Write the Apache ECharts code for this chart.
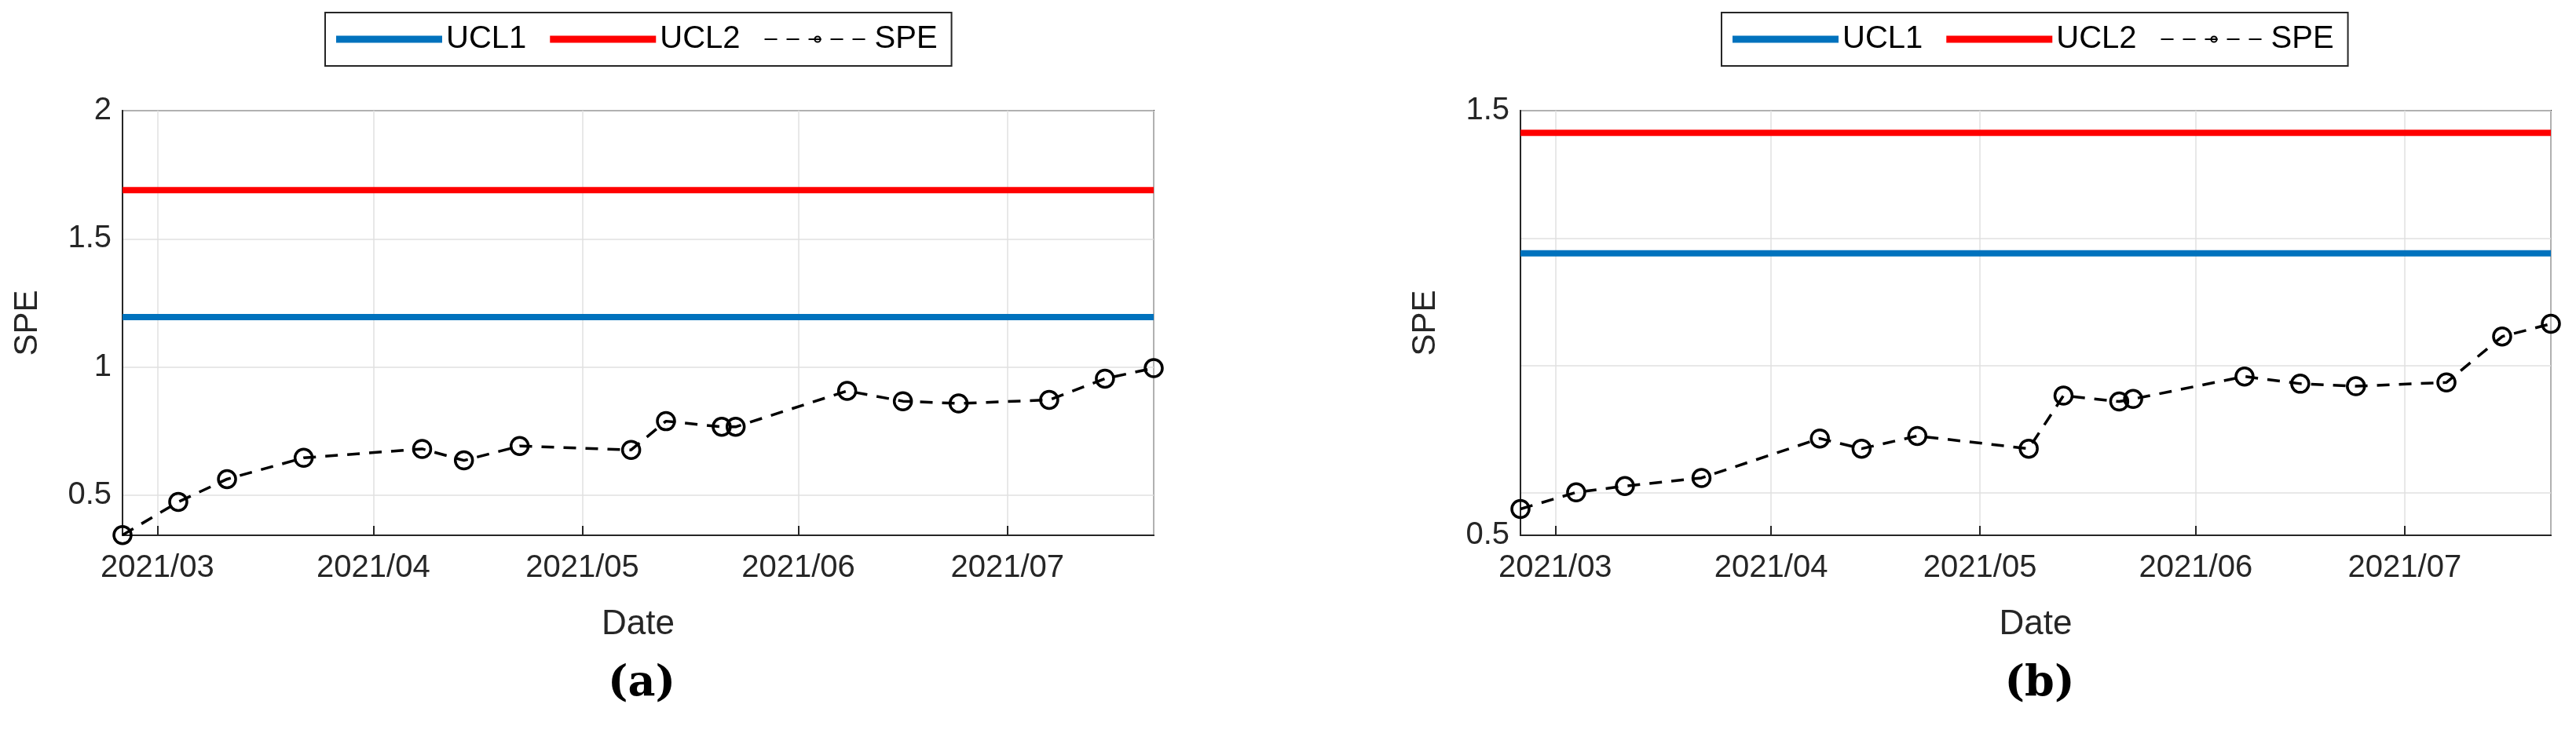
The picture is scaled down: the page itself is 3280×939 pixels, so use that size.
<!DOCTYPE html>
<html>
<head>
<meta charset="utf-8">
<script src="https://cdn.jsdelivr.net/npm/echarts@6/dist/echarts.min.js"></script>
<style>
  html, body { margin: 0; padding: 0; background: #fff; }
  #chart { width: 3280px; height: 939px; }
</style>
</head>
<body>
<div id="chart"></div>
<script>
// sample dates shared by both panels
const dates = [
    '2021-02-24', '2021-03-04', '2021-03-11', '2021-03-22', '2021-04-08', '2021-04-14',
    '2021-04-22', '2021-05-08', '2021-05-13', '2021-05-21', '2021-05-23', '2021-06-08',
    '2021-06-16', '2021-06-24', '2021-07-07', '2021-07-15', '2021-07-22'
];
// panel (a)
const speA = [0.345, 0.474, 0.563, 0.646, 0.681, 0.636, 0.692, 0.677, 0.789, 0.767, 0.767, 0.907, 0.867, 0.858, 0.872, 0.955, 0.996];
const ucl1A = 1.195;
const ucl2A = 1.69;
// panel (b)
const speB = [0.562, 0.601, 0.616, 0.635, 0.728, 0.704, 0.734, 0.704, 0.829, 0.815, 0.821, 0.874, 0.857, 0.851, 0.860, 0.968, 0.998];
const ucl1B = 1.164;
const ucl2B = 1.448;

const xStart = '2021-02-24';
const xEnd = '2021-07-22';
const DAY = 86400000;

var dom = document.getElementById('chart');
var myChart = echarts.init(dom, null, { renderer: 'canvas' });

const font = 'Arial, "Liberation Sans", sans-serif';

function pairs(vals) {
    return dates.map(function (d, i) { return [d, vals[i]]; });
}
function flat(v) {
    return [[xStart, v], [xEnd, v]];
}

function makeX(idx) {
    return {
        type: 'time', gridIndex: idx,
        min: xStart, max: xEnd,
        minInterval: 28 * DAY, maxInterval: 31 * DAY,
        name: 'Date', nameLocation: 'middle', nameGap: 92,
        nameTextStyle: { fontSize: 44, color: '#262626', fontFamily: font },
        axisLine: { lineStyle: { color: '#262626', width: 2 } },
        axisTick: { inside: true, length: 12, lineStyle: { color: '#262626', width: 2 } },
        axisLabel: {
            formatter: '{yyyy}/{MM}', fontSize: 40, color: '#262626', fontFamily: font, margin: 22,
            rich: {}
        },
        splitLine: { show: true, lineStyle: { color: '#e0e0e0', width: 1.5 } }
    };
}
function makeY(idx, min, max, gap) {
    return {
        type: 'value', gridIndex: idx, min: min, max: max, splitNumber: 3,
        name: 'SPE', nameLocation: 'middle', nameGap: gap,
        nameTextStyle: { fontSize: 42, color: '#262626', fontFamily: font },
        axisLine: { show: true, lineStyle: { color: '#262626', width: 2 } },
        axisTick: { inside: true, length: 12, lineStyle: { color: '#262626', width: 2 } },
        axisLabel: {
            fontSize: 40, color: '#262626', fontFamily: font, margin: 14,
            formatter: function (v) {
                var r = Math.round(v * 2) / 2;
                return Math.abs(v - r) < 1e-6 ? String(r) : '';
            }
        },
        splitLine: { show: true, lineStyle: { color: '#e0e0e0', width: 1.5 } }
    };
}
function makeSeries(idx, spe, u1, u2) {
    return [
        {
            name: 'UCL1', type: 'line', xAxisIndex: idx, yAxisIndex: idx, data: flat(u1),
            symbol: 'none', lineStyle: { color: '#0072BD', width: 8 }, itemStyle: { color: '#0072BD' }
        },
        {
            name: 'UCL2', type: 'line', xAxisIndex: idx, yAxisIndex: idx, data: flat(u2),
            symbol: 'none', lineStyle: { color: '#FF0000', width: 8 }, itemStyle: { color: '#FF0000' }
        },
        {
            name: 'SPE', type: 'line', xAxisIndex: idx, yAxisIndex: idx, data: pairs(spe),
            symbol: 'circle', symbolSize: 22, showSymbol: true, showAllSymbol: true, clip: false,
            lineStyle: { color: '#000', width: 3.5, type: [16, 12] },
            itemStyle: { color: 'rgba(0,0,0,0)', borderColor: '#000', borderWidth: 3.5 }
        }
    ];
}
function makeLegend(idx, left) {
    return {
        left: left, top: 16, width: 900,
        data: [
            { name: 'UCL1', icon: 'rect' },
            { name: 'UCL2', icon: 'rect' },
            { name: 'SPE' }
        ],
        itemWidth: 135, itemHeight: 9, itemGap: 30,
        padding: [14, 18, 14, 14],
        borderColor: '#262626', borderWidth: 2,
        textStyle: { fontSize: 40, color: '#000', fontFamily: font },
        selectedMode: false
    };
}

var option = {
    animation: false,
    backgroundColor: '#fff',
    title: [
        { text: '(a)', left: 812, top: 840, textAlign: 'center',
          textStyle: { fontSize: 54, fontWeight: 'bold', color: '#000', fontFamily: '"DejaVu Serif", "Liberation Serif", serif' } },
        { text: '(b)', left: 2592, top: 840, textAlign: 'center',
          textStyle: { fontSize: 54, fontWeight: 'bold', color: '#000', fontFamily: '"DejaVu Serif", "Liberation Serif", serif' } }
    ],
    legend: [makeLegend(0, 414), makeLegend(1, 2192)],
    grid: [
        { left: 156, top: 141, width: 1313, height: 541, show: true, borderColor: '#262626', borderWidth: 2 },
        { left: 1936, top: 141, width: 1312, height: 541, show: true, borderColor: '#262626', borderWidth: 2 }
    ],
    xAxis: [makeX(0), makeX(1)],
    yAxis: [makeY(0, 0.344, 2, 100), makeY(1, 0.5, 1.5, 100)],
    series: makeSeries(0, speA, ucl1A, ucl2A).concat(makeSeries(1, speB, ucl1B, ucl2B))
};

myChart.setOption(option);
</script>
</body>
</html>
